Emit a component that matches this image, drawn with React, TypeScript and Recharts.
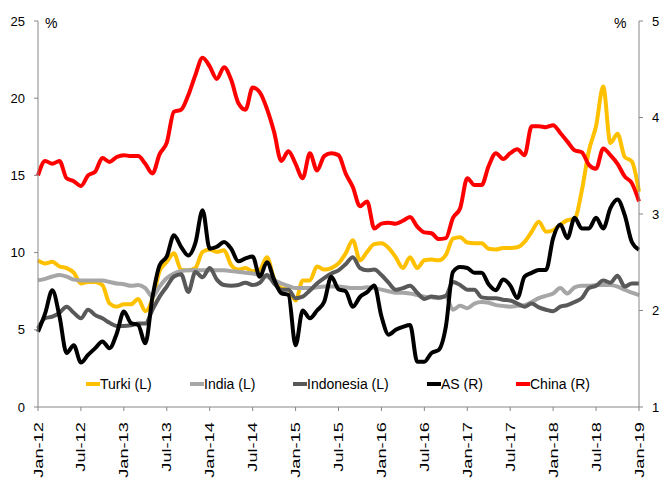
import { LineChart, Line, XAxis, YAxis, Legend } from "recharts";

const monthNames = ["Jan", "Feb", "Mar", "Apr", "May", "Jun", "Jul", "Aug", "Sep", "Oct", "Nov", "Dec"];
const years = ["12", "13", "14", "15", "16", "17", "18", "19"];

// Jan-12 .. Jan-19, monthly
const categories: string[] = years
  .flatMap((y) => monthNames.map((m) => `${m}-${y}`))
  .slice(0, 85);

// left axis (%)
const turki = [
  9.5, 9.3, 9.4, 9.1, 9.0, 8.7, 8.0, 8.1, 8.1, 7.9, 6.7, 6.5,
  6.65, 6.65, 7.0, 6.2, 7.0, 8.8, 9.4, 9.95, 8.9, 8.85, 9.0, 10.05,
  10.2, 10.05, 10.15, 9.2, 8.9, 9.0, 8.8, 8.9, 9.7, 8.3, 7.7, 7.6,
  6.9, 8.2, 8.2, 9.1, 8.9, 9.0, 9.3, 9.95, 10.8, 9.5, 10.05, 10.55,
  10.6, 10.3, 9.7, 9.0, 9.7, 9.0, 9.5, 9.55, 9.5, 9.85, 10.9, 11.0,
  10.65, 10.6, 10.6, 10.25, 10.2, 10.3, 10.3, 10.35, 10.7, 11.35, 12.0, 11.35,
  11.45, 11.8, 12.1, 12.2, 14.0, 16.6, 18.2, 20.75, 17.1, 17.7, 16.2, 15.9,
  13.95,
];

const india = [
  8.2, 8.3, 8.45, 8.55, 8.45, 8.25, 8.2, 8.2, 8.2, 8.2, 8.1, 8.0,
  7.95, 7.85, 7.9, 7.7, 7.15, 7.8, 8.35, 8.65, 8.8, 8.85, 8.85, 8.85,
  8.85, 8.85, 8.85, 8.8, 8.75, 8.7, 8.65, 8.55, 8.45, 8.2, 8.0, 7.85,
  7.7, 7.7, 7.7, 7.75, 7.8, 7.8, 7.8, 7.75, 7.7, 7.7, 7.75, 7.7,
  7.6, 7.5, 7.4, 7.4, 7.35, 7.25, 7.15, 7.1, 7.05, 7.15, 6.3, 6.55,
  6.4, 6.7, 6.8, 6.75, 6.6, 6.55, 6.5, 6.55, 6.6, 6.8, 7.05, 7.2,
  7.35, 7.7, 7.35, 7.75, 7.85, 7.85, 7.9, 7.9, 7.9, 7.8, 7.6, 7.4,
  7.25,
];

const indonesia = [
  5.1, 5.75, 5.85, 6.1, 6.5, 6.1, 5.75, 6.3, 5.95, 5.75, 5.45, 5.25,
  5.25, 5.3, 5.4, 5.4, 6.3, 7.15, 7.8, 8.45, 8.6, 7.45, 8.75, 8.4,
  9.0, 8.25, 7.9, 7.85, 7.9, 8.05, 7.9, 8.05, 8.55, 8.0, 7.6, 7.6,
  7.05, 7.15, 7.55, 8.0, 8.35, 8.65, 8.85, 9.25, 9.7, 9.0, 8.85, 8.9,
  8.55, 8.05, 7.6, 7.7, 7.85, 7.4, 7.0, 7.15, 7.1, 7.2, 8.1, 7.9,
  7.6, 7.6, 7.1, 7.05, 7.05, 6.95, 6.9, 6.7, 6.5, 6.7, 6.45, 6.3,
  6.2, 6.5, 6.6, 6.8, 7.05, 7.7, 7.85, 8.2, 8.05, 8.5, 7.8, 8.0,
  8.0,
];

// right axis (%)
const as = [
  1.78, 1.97, 2.21, 1.94, 1.56, 1.64, 1.46, 1.54, 1.61, 1.68, 1.61, 1.76,
  1.99, 1.87, 1.85, 1.66, 2.14, 2.47, 2.56, 2.78, 2.66, 2.57, 2.7, 3.04,
  2.64, 2.66, 2.71, 2.64, 2.51, 2.54, 2.56, 2.35, 2.5, 2.32, 2.18, 2.16,
  1.64, 2.0, 1.92, 2.0, 2.09, 2.35, 2.22, 2.2, 2.04, 2.14, 2.19, 2.26,
  1.94, 1.75, 1.8, 1.83, 1.85, 1.47, 1.47, 1.56, 1.59, 1.83, 2.4, 2.45,
  2.44, 2.39, 2.39, 2.27, 2.21, 2.32, 2.26, 2.13, 2.35, 2.39, 2.42, 2.42,
  2.75, 2.89, 2.75, 2.96, 2.85, 2.85, 2.96, 2.85, 3.06, 3.15, 2.99, 2.71,
  2.63,
];

const china = [
  3.4, 3.55, 3.52, 3.55, 3.37, 3.34, 3.29, 3.4, 3.44, 3.58, 3.54, 3.59,
  3.61, 3.6, 3.6, 3.52, 3.42, 3.62, 3.74, 4.06, 4.08, 4.23, 4.44, 4.62,
  4.53, 4.4, 4.52, 4.39, 4.15, 4.08, 4.31, 4.26, 4.09, 3.85, 3.55, 3.65,
  3.52, 3.37, 3.63, 3.45, 3.6, 3.63, 3.61, 3.42, 3.28, 3.08, 3.13, 2.85,
  2.9, 2.91, 2.9, 2.93, 2.97, 2.87, 2.81, 2.8, 2.74, 2.75, 2.96, 3.06,
  3.37, 3.3, 3.3, 3.5, 3.63, 3.57, 3.63, 3.67, 3.61, 3.91, 3.91, 3.9,
  3.92, 3.84, 3.75, 3.66, 3.64, 3.51, 3.47, 3.68, 3.61, 3.52, 3.39, 3.32,
  3.13,
];

const leftTicks = [0, 5, 10, 15, 20, 25];
const rightTicks = [1, 2, 3, 4, 5];

const series = [
  { key: "turki", name: "Turki (L)", color: "#FFC000", axis: "L", values: turki },
  { key: "india", name: "India (L)", color: "#A6A6A6", axis: "L", values: india },
  { key: "indonesia", name: "Indonesia (L)", color: "#595959", axis: "L", values: indonesia },
  { key: "as", name: "AS (R)", color: "#000000", axis: "R", values: as },
  { key: "china", name: "China (R)", color: "#FF0000", axis: "R", values: china },
];

const data = categories.map((month, i) => {
  const row: Record<string, string | number> = { month };
  series.forEach((s) => (row[s.key] = s.values[i]));
  return row;
});

const FONT = "'Liberation Sans', Arial, sans-serif";
const AXIS = "#868686";

const XTick = ({ x, y, payload }: any) => (
  <g transform={`translate(${x},${y})`}>
    <text
      transform="rotate(-90) scale(1.4,1)"
      x={-8}
      dy="0.35em"
      textAnchor="end"
      fontSize={13}
      fontFamily={FONT}
      fill="#000"
    >
      {payload.value}
    </text>
  </g>
);

const YTick = ({ x, y, payload, textAnchor }: any) => (
  <text x={x} y={y} dy="0.35em" textAnchor={textAnchor} fontSize={13} fontFamily={FONT} fill="#000">
    {payload.value}
  </text>
);

// slot widths so each legend marker lands where it does in the source
const legendSlots = [104, 103, 134, 89, 90];

const LegendRow = () => (
  <div style={{ display: "flex", fontFamily: FONT, fontSize: 14, lineHeight: "20px" }}>
    {series.map((s, i) => (
      <div key={s.key} style={{ width: legendSlots[i], display: "flex", alignItems: "center" }}>
        <span style={{ width: 14, height: 4, background: s.color, display: "inline-block" }} />
        <span style={{ color: "#000" }}>{s.name}</span>
      </div>
    ))}
  </div>
);

export default function App() {
  // fixed so the page never gets a scrollbar eating the right-hand tick labels
  return (
    <div style={{ position: "fixed", left: 0, top: 0, width: 660, height: 480, background: "#fff" }}>
      <LineChart width={660} height={480} data={data} margin={{ top: 21, right: 0, left: 0, bottom: 0 }}>
        <XAxis
          dataKey="month"
          interval={5}
          height={73}
          tickSize={4}
          tickMargin={0}
          tick={<XTick />}
          axisLine={{ stroke: AXIS }}
          tickLine={{ stroke: AXIS }}
        />
        <YAxis
          yAxisId="L"
          domain={[0, 25]}
          ticks={leftTicks}
          interval={0}
          width={38}
          tickSize={4}
          tickMargin={9}
          axisLine={{ stroke: AXIS }}
          tickLine={{ stroke: AXIS }}
          tick={<YTick />}
        />
        <YAxis
          yAxisId="R"
          orientation="right"
          domain={[1, 5]}
          ticks={rightTicks}
          interval={0}
          width={21}
          tickSize={4}
          tickMargin={9}
          axisLine={{ stroke: AXIS }}
          tickLine={{ stroke: AXIS }}
          tick={<YTick />}
        />
        <Legend
          layout="horizontal"
          verticalAlign="middle"
          align="center"
          content={<LegendRow />}
          wrapperStyle={{ left: 86, top: 374, width: 560 }}
        />
        {series.map((s) => (
          <Line
            key={s.key}
            yAxisId={s.axis}
            dataKey={s.key}
            name={s.name}
            type="monotone"
            stroke={s.color}
            strokeWidth={4}
            dot={false}
            activeDot={false}
            isAnimationActive={false}
          />
        ))}
      </LineChart>
      <span style={{ position: "absolute", left: 45, top: 15, fontFamily: FONT, fontSize: 14 }}>%</span>
      <span style={{ position: "absolute", left: 614, top: 15, fontFamily: FONT, fontSize: 14 }}>%</span>
    </div>
  );
}
